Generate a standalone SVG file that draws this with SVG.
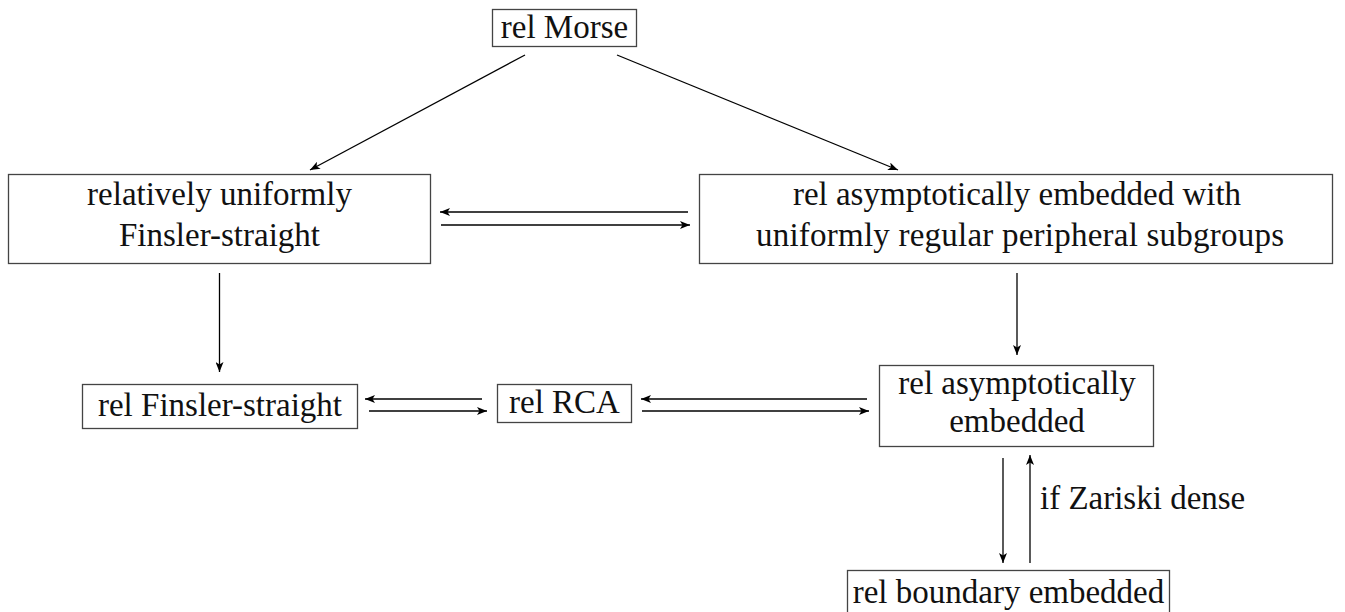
<svg xmlns="http://www.w3.org/2000/svg" width="1345" height="612" viewBox="0 0 1345 612">
<defs>
<marker id="ah" viewBox="0 0 10 8" refX="10" refY="4" markerWidth="10" markerHeight="8" markerUnits="userSpaceOnUse" orient="auto">
<path d="M0,0 L10,4 L0,8 L2.5,4 Z" fill="#000"/>
</marker>
<style>
.box{fill:#fff;stroke:#444;stroke-width:1.3}
.t{font-family:"Liberation Serif","DejaVu Serif",serif;font-size:33px;fill:#111;text-anchor:middle}
.c{stroke:#000;stroke-width:1.3;fill:none;marker-end:url(#ah)}
</style>
</defs>
<rect width="1345" height="612" fill="#fff"/>
<g id="n-morse"><rect class="box" x="492.5" y="9.5" width="144" height="37"/><text class="t" x="564.5" y="38">rel Morse</text></g>
<g id="n-ruf"><rect class="box" x="8.5" y="174.5" width="422" height="89"/><text class="t" x="219.5" y="205">relatively uniformly</text><text class="t" x="219.5" y="246">Finsler-straight</text></g>
<g id="n-raeu"><rect class="box" x="699.5" y="174.5" width="633" height="89"/><text class="t" x="1017" y="205">rel asymptotically embedded with</text><text class="t" x="1020" y="246" textLength="528">uniformly regular peripheral subgroups</text></g>
<g id="n-rfs"><rect class="box" x="82.5" y="384.5" width="275" height="44"/><text class="t" x="220" y="416">rel Finsler-straight</text></g>
<g id="n-rca"><rect class="box" x="497.5" y="384.5" width="134" height="38"/><text class="t" x="564.5" y="413">rel RCA</text></g>
<g id="n-rae"><rect class="box" x="879.5" y="365.5" width="274" height="81"/><text class="t" x="1017" y="394">rel asymptotically</text><text class="t" x="1017" y="432">embedded</text></g>
<g id="n-rbe"><rect class="box" x="847.5" y="570.5" width="322" height="50"/><text class="t" x="1008.5" y="603">rel boundary embedded</text></g>
<g id="connectors">
<line class="c" x1="525" y1="55" x2="310" y2="170"/>
<line class="c" x1="617" y1="55" x2="898" y2="170"/>
<line class="c" x1="688" y1="212" x2="440" y2="212"/>
<line class="c" x1="441" y1="225" x2="690" y2="225"/>
<line class="c" x1="219.5" y1="273" x2="219.5" y2="372"/>
<line class="c" x1="1017" y1="273" x2="1017" y2="355"/>
<line class="c" x1="482" y1="399" x2="365" y2="399"/>
<line class="c" x1="369" y1="411" x2="487" y2="411"/>
<line class="c" x1="867" y1="399" x2="641" y2="399"/>
<line class="c" x1="642" y1="411" x2="869" y2="411"/>
<line class="c" x1="1003" y1="458" x2="1003" y2="563"/>
<line class="c" x1="1030" y1="563" x2="1030" y2="455"/>
</g>
<text class="t" x="1040" y="509" style="text-anchor:start">if Zariski dense</text>
</svg>
